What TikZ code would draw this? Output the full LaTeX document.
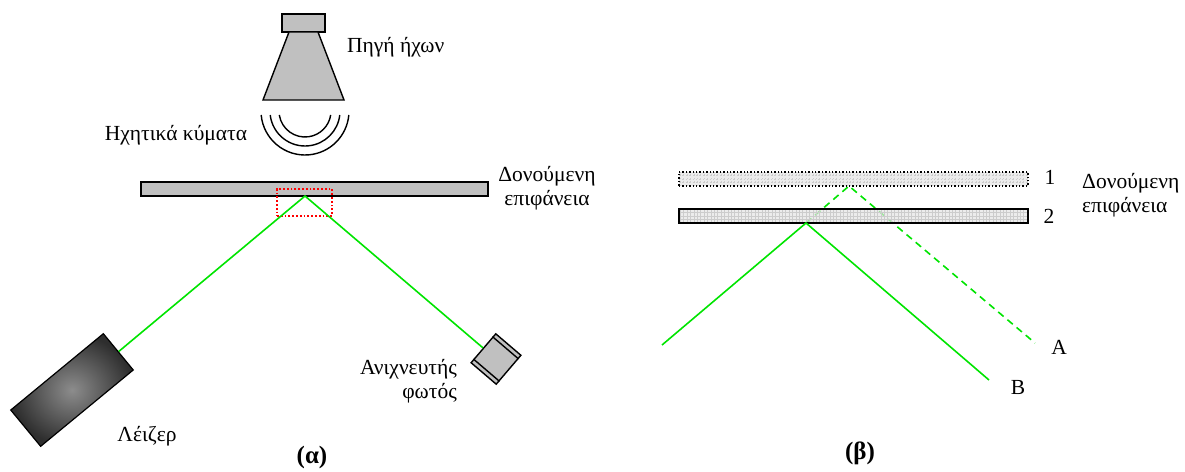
\documentclass[tikz,border=0pt]{standalone}
\usepackage{fontspec}
\setmainfont{Liberation Serif}
\usetikzlibrary{calc}
\definecolor{laser}{RGB}{0,228,0}
\definecolor{partgray}{RGB}{192,192,192}
\definecolor{gridbg}{RGB}{228,228,228}
\begin{document}
\begin{tikzpicture}[x=1pt,y=-1pt,
  lbl/.style={font=\fontsize{21.5}{23.5}\selectfont, inner sep=0pt, align=center},
  caption/.style={font=\fontsize{25}{28}\selectfont\bfseries, inner sep=0pt},
  beam/.style={draw=laser, line width=1.6pt},
  dbeam/.style={beam, dash pattern=on 7pt off 5pt},
  part/.style={fill=partgray, draw=black, line width=1.4pt},
  wave/.style={draw=black, line width=1.4pt},
  bar/.style={draw=black, line width=1.4pt, inner sep=0pt},
  gridbar/.style={bar, minimum width=349pt, minimum height=14pt,
    fill=gridbg, fill opacity=0.7,
    path picture={\draw[gray!40, line width=0.3pt, step=3.4pt]
      (path picture bounding box.south west) grid (path picture bounding box.north east);}},
  laserbox/.style={draw=black, line width=1.2pt, inner sep=0pt,
    minimum width=120pt, minimum height=47pt,
    inner color=black!45, outer color=black!82},
  detbox/.style={fill=partgray, draw=black, line width=1.4pt, inner sep=0pt,
    minimum width=33pt, minimum height=38pt},
]
\useasboundingbox (0,0) rectangle (1185,471);

% ---------- (a) ----------
% sound source
\draw[part] (282,14) rectangle (325,32);
\draw[part] (289,32) -- (318,32) -- (344,100) -- (263,100) -- cycle;
\node[lbl, anchor=west] (srclbl) at (347,47) {Πηγή ήχων};

% sound waves
\coordinate (wc) at (305,111);
\foreach \r/\a in {26/8.8, 35/6.6, 44/5.2}
  \draw[wave] (wc) ++(180-\a:\r) arc[start angle=180-\a, end angle=\a, radius=\r];
\node[lbl] (wavelbl) at (176,135) {Ηχητικά κύματα};

% vibrating surface
\node[part, inner sep=0pt, minimum width=347pt, minimum height=14pt] (surfA) at (314.5,189) {};
\node[lbl] (surfAlbl) at (547,188) {Δονούμενη\\επιφάνεια};
\node[draw=red, dotted, line width=1.8pt, inner sep=0pt,
      minimum width=55pt, minimum height=27pt] (spot) at (304.5,202.5) {};

% laser and detector
\node[laserbox, rotate=39.5] (laser) at (72,390) {};
\node[lbl] (laserlbl) at (147,436) {Λέιζερ};
\node[detbox, rotate=-40.5] (det) at (496,359) {};
\draw[line width=1.4pt]
  ($(det.north west)!5pt!(det.south west)$) -- ($(det.north east)!5pt!(det.south east)$)
  ($(det.south west)!5pt!(det.north west)$) -- ($(det.south east)!5pt!(det.north east)$);
\node[lbl, align=right, anchor=east] (detlbl) at (457,381) {Ανιχνευτής\\φωτός};

\coordinate (hitA) at (305,196);
\draw[beam] (laser.east) -- (hitA) -- (det.west);

\node[caption] (capA) at (312,457) {(α)};

% ---------- (b) ----------
\coordinate (hitB1) at (849,186);
\coordinate (hitB2) at (806,223);
\coordinate (inB) at (662,345);
\coordinate (endA) at (1035,343);
\coordinate (endB) at (989,380);

\draw[dbeam] (hitB2) -- (hitB1) -- (endA);

\node[gridbar, dotted] (bar1) at (853.5,179) {};
\node[gridbar] (bar2) at (853.5,216) {};

\draw[beam] (inB) -- (hitB2) -- (endB);

\node[lbl] (lbl1) at (1050,177) {1};
\node[lbl] (lbl2) at (1049,216) {2};
\node[lbl, align=left, anchor=west] (surfBlbl) at (1082,195) {Δονούμενη\\επιφάνεια};
\node[lbl] (lblA) at (1059,347) {A};
\node[lbl] (lblB) at (1018,387) {B};

\node[caption] (capB) at (860,453) {(β)};
\end{tikzpicture}
\end{document}
